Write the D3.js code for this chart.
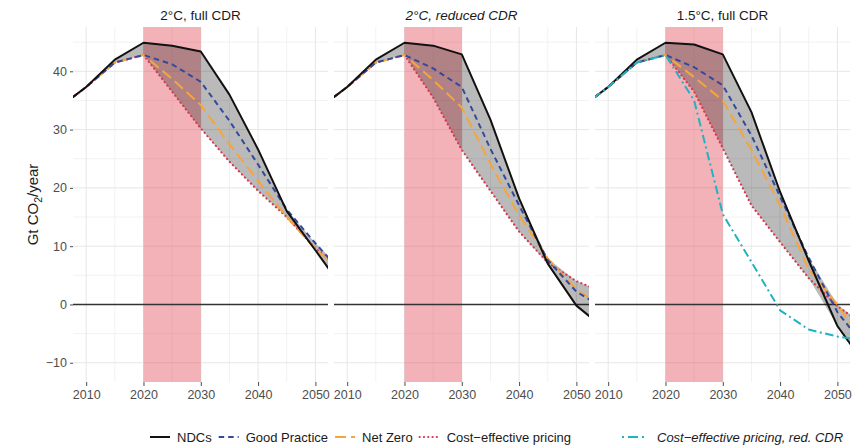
<!DOCTYPE html>
<html>
<head>
<meta charset="utf-8">
<script src="https://cdn.jsdelivr.net/npm/d3@7"></script>
<style>
  html, body { margin: 0; padding: 0; background: #fff; }
  svg { display: block; font-family: "Liberation Sans", Arial, Helvetica, sans-serif; }
</style>
</head>
<body>
<svg id="chart" width="854" height="448"></svg>
<script>
// ---------------- DATA ----------------
const years = [2005, 2010, 2015, 2020, 2025, 2030, 2035, 2040, 2045, 2050, 2055];

const panelTitles = ["2°C, full CDR", "2°C, reduced CDR", "1.5°C, full CDR"];
const panelItalic = [false, true, false];

// Panel 1: 2°C, full CDR
const p1_ndc = [33.6, 37.3, 42.0, 44.9, 44.4, 43.4, 36.0, 26.6, 16.0, 9.3, 2.5];
const p1_gp  = [33.6, 37.3, 41.5, 42.8, 41.2, 38.2, 31.5, 24.0, 16.3, 10.5, 5.0];
const p1_nz  = [33.6, 37.3, 41.5, 42.8, 38.7, 34.2, 27.5, 21.2, 15.0, 9.5, 5.5];
const p1_ce  = [33.6, 37.3, 41.5, 42.8, 36.5, 30.2, 24.5, 19.5, 15.0, 9.6, 5.8];

// Panel 2: 2°C, reduced CDR
const p2_ndc = [33.6, 37.3, 42.0, 44.9, 44.4, 42.9, 31.7, 18.2, 7.0, -0.2, -4.2];
const p2_gp  = [33.6, 37.3, 41.5, 42.8, 40.5, 37.3, 26.7, 17.0, 7.6, 2.2, -0.8];
const p2_nz  = [33.6, 37.3, 41.5, 42.8, 38.5, 33.8, 24.1, 15.3, 7.9, 2.6, -0.8];
const p2_ce  = [33.6, 37.3, 41.5, 42.8, 35.5, 26.5, 19.5, 12.5, 7.2, 4.0, 2.0];

// Panel 3: 1.5°C, full CDR
const p3_ndc = [33.6, 37.3, 42.0, 44.9, 44.6, 42.9, 33.0, 19.3, 7.5, -3.7, -10.5];
const p3_gp  = [33.6, 37.3, 41.5, 42.8, 40.7, 37.6, 29.0, 18.5, 8.0, -1.3, -7.5];
const p3_nz  = [33.6, 37.3, 41.5, 42.8, 39.0, 35.0, 26.5, 17.0, 6.0, 0.0, -7.5];
const p3_ce  = [33.6, 37.3, 41.5, 42.8, 36.5, 26.8, 17.0, 10.7, 4.5, -0.3, -3.8];
const p3_cered = [33.6, 37.3, 41.5, 42.8, 35.0, 15.5, 7.3, -1.0, -4.3, -5.5, -6.2];

const xTicks = [2010, 2020, 2030, 2040, 2050];
const xMinor = [2015, 2025, 2035, 2045];
const yTicks = [-10, 0, 10, 20, 30, 40];
const yMinor = [-5, 5, 15, 25, 35, 45];
const highlightPeriod = [2020, 2030];

const seriesNames = ["NDCs", "Good Practice", "Net Zero", "Cost\u2212effective pricing"];
const extraName = "Cost\u2212effective pricing, red. CDR";

// ---------------- STYLE ----------------
const styles = {
  ndc:   { color: "#111111", width: 2.0, dash: null, cap: "butt" },
  gp:    { color: "#34499b", width: 2.0, dash: "5.5 4", cap: "butt" },
  nz:    { color: "#f5a53c", width: 2.0, dash: "11 5", cap: "butt" },
  ce:    { color: "#d9364f", width: 2.2, dash: "0.1 4.2", cap: "round" },
  cered: { color: "#1fb3c3", width: 2.0, dash: "8.5 3.5 2 3.5", cap: "butt" }
};

const panels = [
  { ndc: p1_ndc, gp: p1_gp, nz: p1_nz, ce: p1_ce },
  { ndc: p2_ndc, gp: p2_gp, nz: p2_nz, ce: p2_ce },
  { ndc: p3_ndc, gp: p3_gp, nz: p3_nz, ce: p3_ce, cered: p3_cered }
];

const svg = d3.select("#chart");
svg.append("rect").attr("width", 854).attr("height", 448).attr("fill", "#fff");

const panelLeft = [73, 334, 595];
const panelW = 255;
const plotTop = 27, plotBottom = 382;

const y = d3.scaleLinear().domain([-13.3, 47.6]).range([plotBottom, plotTop]);
const defs = svg.append("defs");

panels.forEach((p, i) => {
  const x0 = panelLeft[i];
  const x = d3.scaleLinear().domain([2007.7, 2052.2]).range([x0, x0 + panelW]);
  const g = svg.append("g");

  const clipId = "clip" + i;
  defs.append("clipPath").attr("id", clipId)
    .append("rect").attr("x", x0).attr("y", plotTop).attr("width", panelW).attr("height", plotBottom - plotTop);

  // grid
  const grid = g.append("g");
  grid.selectAll(".ymin").data(yMinor.filter(v => v > y.domain()[0] && v < y.domain()[1])).join("line")
    .attr("x1", x0).attr("x2", x0 + panelW).attr("y1", d => y(d)).attr("y2", d => y(d))
    .attr("stroke", "#f2f2f2").attr("stroke-width", 1);
  grid.selectAll(".xmin").data(xMinor).join("line")
    .attr("x1", d => x(d)).attr("x2", d => x(d)).attr("y1", plotTop).attr("y2", plotBottom)
    .attr("stroke", "#f2f2f2").attr("stroke-width", 1);
  grid.selectAll(".ymaj").data(yTicks).join("line")
    .attr("x1", x0).attr("x2", x0 + panelW).attr("y1", d => y(d)).attr("y2", d => y(d))
    .attr("stroke", "#e6e6e6").attr("stroke-width", 1);
  grid.selectAll(".xmaj").data(xTicks).join("line")
    .attr("x1", d => x(d)).attr("x2", d => x(d)).attr("y1", plotTop).attr("y2", plotBottom)
    .attr("stroke", "#e6e6e6").attr("stroke-width", 1);

  // highlight period
  g.append("rect")
    .attr("x", x(highlightPeriod[0])).attr("width", x(highlightPeriod[1]) - x(highlightPeriod[0]))
    .attr("y", plotTop).attr("height", plotBottom - plotTop)
    .attr("fill", "rgba(222,62,74,0.4)");

  // zero line
  g.append("line").attr("x1", x0).attr("x2", x0 + panelW).attr("y1", y(0)).attr("y2", y(0))
    .attr("stroke", "#333333").attr("stroke-width", 1.4);

  const content = g.append("g").attr("clip-path", `url(#${clipId})`);

  // ribbon between min and max of main scenarios
  const rib = years.map((yr, k) => {
    const vals = [p.ndc[k], p.gp[k], p.nz[k], p.ce[k]];
    return { yr, lo: d3.min(vals), hi: d3.max(vals) };
  });
  content.append("path").datum(rib)
    .attr("d", d3.area().x(d => x(d.yr)).y0(d => y(d.lo)).y1(d => y(d.hi)))
    .attr("fill", "rgba(0,0,0,0.27)");

  const line = d3.line().x((d, k) => x(years[k])).y(d => y(d));
  ["ce", "nz", "gp", "ndc", "cered"].forEach(key => {
    if (!p[key]) return;
    const s = styles[key];
    content.append("path").datum(p[key])
      .attr("d", line)
      .attr("fill", "none")
      .attr("stroke", s.color)
      .attr("stroke-width", s.width)
      .attr("stroke-dasharray", s.dash)
      .attr("stroke-linecap", s.cap)
      .attr("stroke-linejoin", "round");
  });

  // x axis
  const xa = svg.append("g").attr("transform", `translate(0,${plotBottom})`)
    .call(d3.axisBottom(x).tickValues(xTicks).tickFormat(d3.format("d")).tickSize(4).tickPadding(4));
  xa.select(".domain").remove();
  xa.selectAll(".tick line").attr("stroke", "#4d4d4d");
  xa.selectAll("text").attr("fill", "#4d4d4d").style("font-size", "12.5px");

  // title
  svg.append("text")
    .attr("x", x0 + panelW / 2).attr("y", 19.5)
    .attr("text-anchor", "middle")
    .attr("fill", "#1a1a1a")
    .style("font-size", "13.5px")
    .style("font-style", panelItalic[i] ? "italic" : "normal")
    .text(panelTitles[i]);

  if (i === 0) {
    const ya = svg.append("g").attr("transform", `translate(${x0},0)`)
      .call(d3.axisLeft(y).tickValues(yTicks).tickFormat(d3.format("d")).tickSize(3).tickPadding(3));
    ya.select(".domain").remove();
    ya.selectAll(".tick line").attr("stroke", "#4d4d4d");
    ya.selectAll("text").attr("fill", "#4d4d4d").style("font-size", "12.5px")
      .text(d => d < 0 ? "\u2212" + Math.abs(d) : d);
  }
});

// y label
const yl = svg.append("text")
  .attr("transform", `translate(38,${(plotTop + plotBottom) / 2}) rotate(-90)`)
  .attr("text-anchor", "middle")
  .attr("fill", "#222")
  .style("font-size", "15px");
yl.append("tspan").text("Gt CO");
yl.append("tspan").text("2").style("font-size", "10.5px").attr("dy", 3.5);
yl.append("tspan").text("/year").attr("dy", -3.5);

// legend
const legY = 437;
const leg = svg.append("g");
let cx = 150;
const keyW = 20;
const keys = ["ndc", "gp", "nz", "ce"];
keys.forEach((k, i) => {
  const s = styles[k];
  leg.append("line").attr("x1", cx).attr("x2", cx + keyW).attr("y1", legY).attr("y2", legY)
    .attr("stroke", s.color).attr("stroke-width", s.width)
    .attr("stroke-dasharray", s.dash).attr("stroke-linecap", s.cap);
  const t = leg.append("text").attr("x", cx + keyW + 7).attr("y", legY + 4.5)
    .attr("fill", "#1a1a1a").style("font-size", "13px").text(seriesNames[i]);
  cx = cx + keyW + 7 + t.node().getComputedTextLength() + 7;
});
const s5 = styles.cered;
leg.append("line").attr("x1", 622).attr("x2", 644).attr("y1", legY).attr("y2", legY)
  .attr("stroke", s5.color).attr("stroke-width", s5.width)
  .attr("stroke-dasharray", "2 4 10 4").attr("stroke-linecap", "butt");
leg.append("text").attr("x", 657).attr("y", legY + 4.5)
  .attr("fill", "#1a1a1a").style("font-size", "13px").style("font-style", "italic")
  .text(extraName);
</script>
</body>
</html>
